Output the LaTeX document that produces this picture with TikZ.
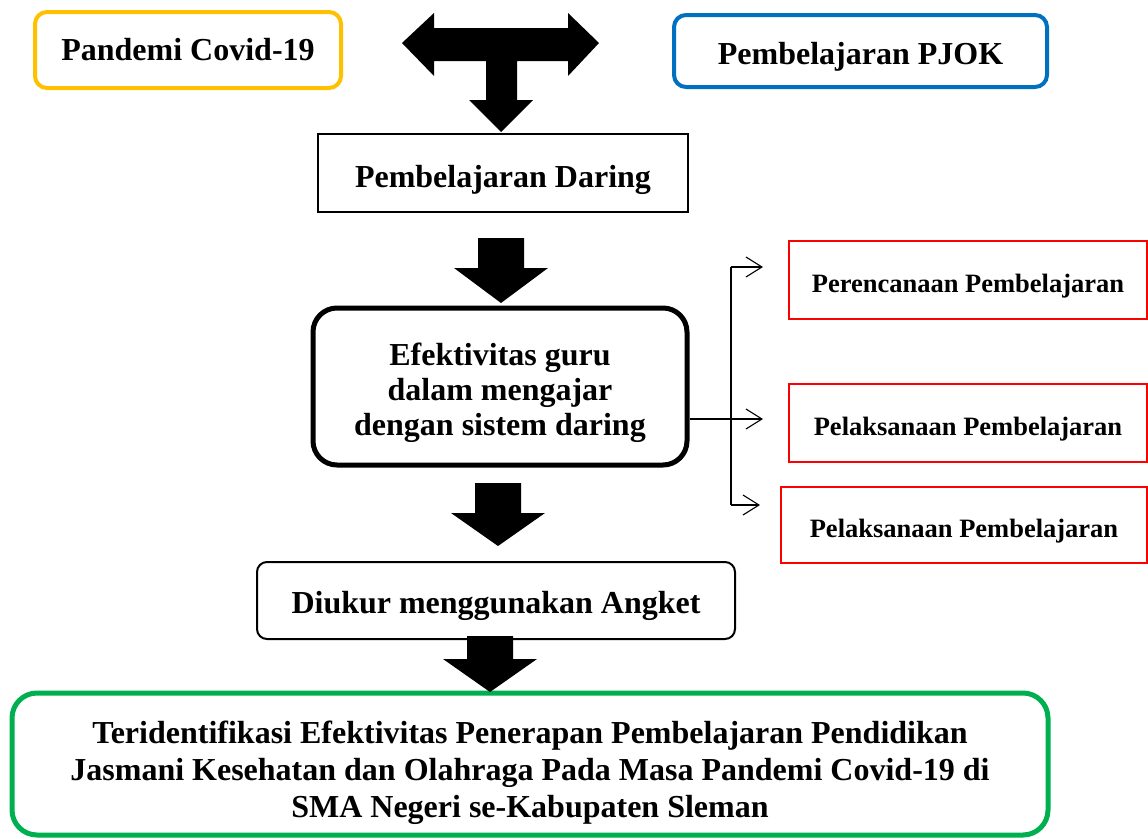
\documentclass[tikz,border=0pt]{standalone}
\usepackage{fontspec}
\setmainfont{Liberation Serif}
\usepackage{tikz}
\usetikzlibrary{arrows.meta}
\definecolor{kuning}{HTML}{FFC000}
\definecolor{biru}{HTML}{0070C0}
\definecolor{hijau}{HTML}{00B050}
\definecolor{merah}{HTML}{FF0000}
\begin{document}
\begin{tikzpicture}[x=1pt,y=-1pt,
  bx/.style n args={3}{draw=#1,line width=#2,rounded corners=#3,rectangle,align=center,
    font=\bfseries\fontsize{32}{36}\selectfont,inner sep=0pt,text depth=0pt},
  rbox/.style={draw=merah,line width=2pt,rectangle,minimum height=78pt,
    font=\bfseries\fontsize{26.5}{30}\selectfont,inner sep=0pt,text height=24pt,text depth=0pt},
  tip/.style={-{Straight Barb[length=16pt,width=20pt]},line width=1.1pt}]
\useasboundingbox (0,0) rectangle (1148,838);
% boxes
\node[bx={kuning}{4pt}{12pt},minimum width=306pt,minimum height=76pt,text height=20pt] (pandemi) at (188,50) {Pandemi Covid-19};
\node[bx={biru}{4pt}{12pt},minimum width=373pt,minimum height=72pt,text height=26pt] (pjok) at (860.5,51) {Pembelajaran PJOK};
\node[bx={black}{1.8pt}{0pt},minimum width=370pt,minimum height=78pt,text height=28pt] (daring) at (503,173) {Pembelajaran Daring};
\node[bx={black}{5pt}{24pt},minimum width=374pt,minimum height=157pt,
  font=\bfseries\fontsize{32}{35}\selectfont,text height=97pt] (efek) at (500,386.5)
  {Efektivitas guru\\dalam mengajar\\dengan sistem daring};
\node[bx={black}{2pt}{10pt},minimum width=478pt,minimum height=77pt,text height=25pt] (angket) at (496,600.5) {Diukur menggunakan Angket};
\node[bx={hijau}{5pt}{25pt},minimum width=1036pt,minimum height=142pt,
  font=\bfseries\fontsize{32}{37}\selectfont,text height=107pt] (hasil) at (530,764)
  {Teridentifikasi Efektivitas Penerapan Pembelajaran Pendidikan\\
   Jasmani Kesehatan dan Olahraga Pada Masa Pandemi Covid-19 di\\
   SMA Negeri se-Kabupaten Sleman};
\node[rbox,minimum width=358pt] (rencana) at (968,280) {Perencanaan Pembelajaran};
\node[rbox,minimum width=358pt] (laksana) at (968,423) {Pelaksanaan Pembelajaran};
\node[rbox,minimum width=366pt,minimum height=76pt] (laksanab) at (964,525) {Pelaksanaan Pembelajaran};
% T arrow
\fill (402,43) -- (434,13) -- (434,28) -- (568,28) -- (568,13) -- (599,43) -- (568,76)
  -- (568,61) -- (517,61) -- (517,100) -- (533,100) -- (501,132) -- (469,100)
  -- (486,100) -- (486,61) -- (434,61) -- (434,76) -- cycle;
% block arrows
\foreach \cx/\ya/\yb/\yc in %
{501/238/268/303,498/483/513/546,490/636/659/692} {
   \fill (\cx-23,\ya) -- (\cx+23,\ya) -- (\cx+23,\yb) -- (\cx+47,\yb) -- (\cx,\yc)
     -- (\cx-47,\yb) -- (\cx-23,\yb) -- cycle;
}
% bracket
\coordinate (spa) at (731,267);
\coordinate (spb) at (731,505);
\coordinate (ea) at (763,267);
\coordinate (eb) at (763,419);
\coordinate (ec) at (760,505);
\draw[line width=1.1pt] (spa) -- (spb);
\draw[tip] (spa) -- (ea);
\draw[tip] ([yshift=-32.5pt]efek.east) -- (eb);
\draw[tip] (spb) -- (ec);
\end{tikzpicture}
\end{document}
